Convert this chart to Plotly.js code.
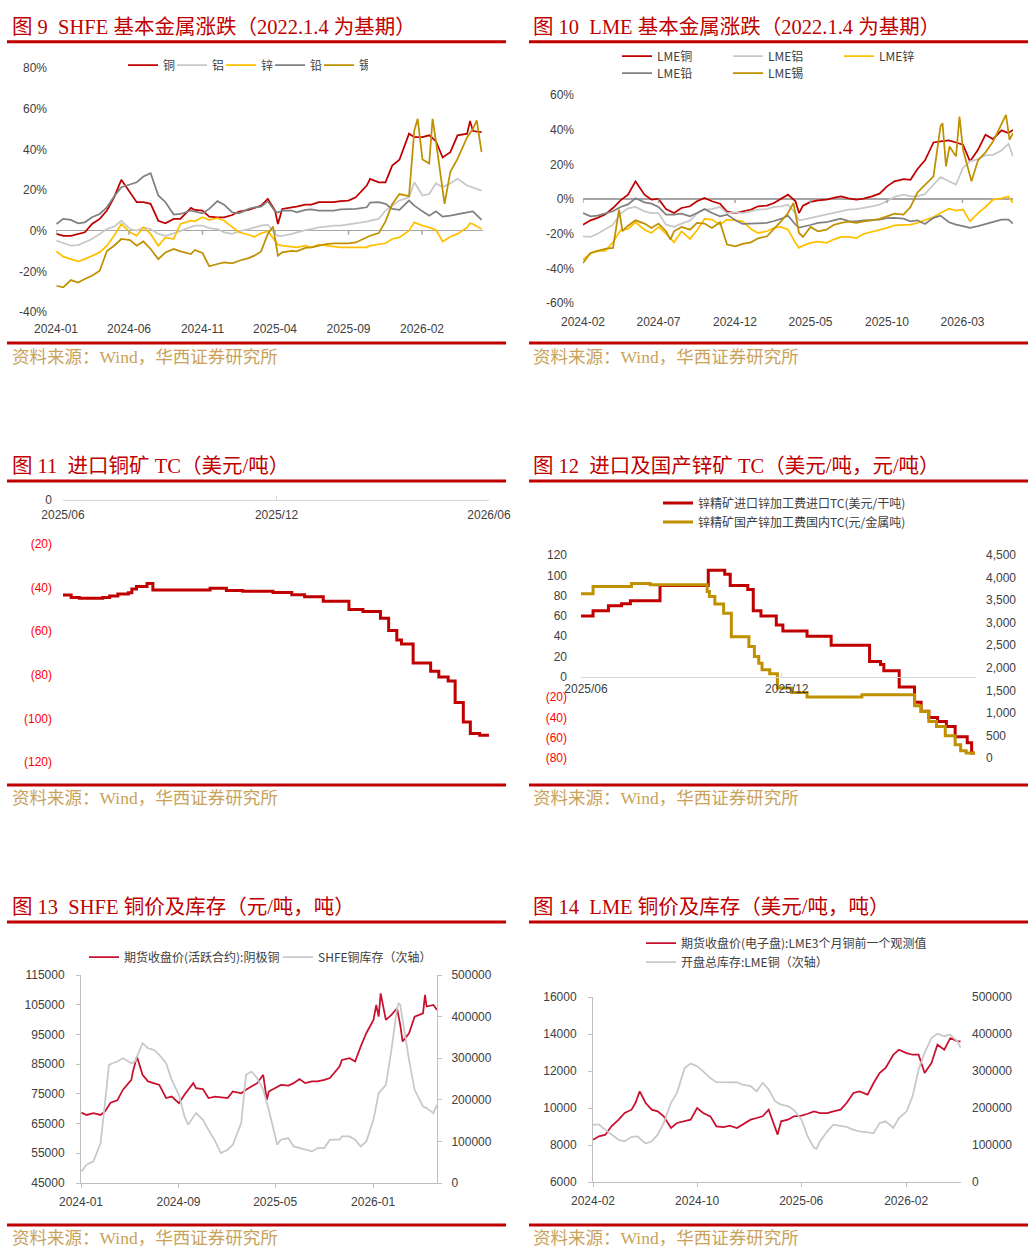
<!DOCTYPE html>
<html>
<head>
<meta charset="utf-8">
<script src="https://cdn.plot.ly/plotly-3.0.1.min.js"></script>
<style>
  html, body { margin: 0; padding: 0; background: #fff; }
  #chart { width: 1034px; height: 1260px; }
</style>
</head>
<body>
<div id="chart"></div>
<script>
'use strict';

// ---------- 图9 SHFE 基本金属涨跌 (%) ----------
const dates9 = ['2024-01-02','2024-01-16','2024-02-01','2024-02-16','2024-03-01','2024-03-16','2024-04-01','2024-04-16','2024-05-01','2024-05-16',
  '2024-06-03','2024-06-17','2024-07-01','2024-07-16','2024-08-01','2024-08-16','2024-09-02','2024-09-16','2024-10-08','2024-10-16',
  '2024-11-01','2024-11-15','2024-12-02','2024-12-16','2025-01-02','2025-01-16','2025-02-05','2025-02-17','2025-03-03','2025-03-17',
  '2025-04-01','2025-04-07','2025-04-16','2025-05-06','2025-05-16','2025-06-03','2025-06-16','2025-07-01','2025-07-16','2025-08-01',
  '2025-08-15','2025-09-01','2025-09-16','2025-10-09','2025-10-16','2025-11-03','2025-11-17','2025-12-01','2025-12-16','2026-01-05',
  '2026-01-16','2026-02-02','2026-02-16','2026-03-02','2026-03-16','2026-04-01','2026-04-16','2026-05-06','2026-05-12','2026-05-18','2026-06-05'];
const copper9 = [-1.6,-2.5,-2.5,-1.6,-0.8,3.3,5.8,9.9,16.4,25.0,
  18.9,14.0,14.0,13.2,4.9,3.6,5.8,5.8,11.2,10.2,
  9.9,6.9,6.6,6.6,7.7,9.4,10.2,11.0,12.3,15.6,
  9.9,3.3,10.7,11.5,11.8,12.8,12.8,14.0,14.0,14.0,
  14.5,14.8,16.4,22.2,25.5,23.8,23.8,32.0,34.9,47.7,
  46.0,46.0,46.9,44.0,36.0,38.6,46.9,47.7,54.0,49.0,48.5];
const alu9 = [-4.9,-6.2,-7.4,-7.1,-5.8,-4.1,-1.6,0.8,2.0,4.9,
  0.8,0.0,1.6,0.8,-1.6,-2.5,-1.3,0.0,2.0,2.5,
  2.5,1.3,0.8,-0.8,-1.6,-0.3,0.8,1.6,2.5,3.0,
  -1.6,-2.5,-2.5,-1.6,-0.8,0.3,0.8,1.6,2.0,2.5,
  2.5,3.0,3.6,4.4,4.9,5.8,9.9,12.3,14.8,16.4,
  23.8,17.3,18.0,23.3,21.4,23.3,25.5,22.2,21.7,21.4,19.7];
const zinc9 = [-10.2,-12.8,-14.0,-15.1,-14.0,-12.3,-10.7,-7.4,-2.5,3.3,
  -0.8,-2.5,1.6,-1.6,-7.4,-3.3,-4.1,3.3,4.9,4.6,
  6.6,5.3,6.2,4.9,1.6,-0.8,-2.0,-3.0,-1.3,-0.3,
  -4.9,-6.9,-7.4,-7.9,-8.2,-7.4,-8.2,-6.9,-7.4,-7.9,
  -8.2,-8.2,-8.2,-8.2,-7.4,-6.6,-6.2,-4.1,-3.3,0.0,
  4.1,2.5,1.6,0.3,-5.3,-3.0,-1.6,1.6,3.6,3.3,0.8];
const lead9 = [3.3,5.8,5.3,3.6,4.1,6.6,8.2,11.5,16.8,21.4,
  22.7,23.8,26.6,28.3,17.3,14.0,7.9,8.2,9.9,9.5,
  8.5,10.7,14.5,12.8,9.0,8.5,10.7,11.5,11.8,14.5,
  9.5,8.9,9.9,9.9,9.0,10.2,10.5,9.9,9.9,9.9,
  10.5,10.7,10.7,11.5,13.8,14.0,13.2,10.7,10.2,14.8,
  12.3,9.5,7.4,9.5,6.9,7.4,8.2,9.0,9.2,9.5,5.3];
const tinDates9 = ['2024-01-02','2024-01-16','2024-02-01','2024-02-16','2024-03-01','2024-03-16','2024-04-01','2024-04-16','2024-05-01','2024-05-16',
  '2024-06-03','2024-06-17','2024-07-01','2024-07-16','2024-08-01','2024-08-16','2024-09-02','2024-09-16','2024-10-08','2024-10-16',
  '2024-11-01','2024-11-15','2024-12-02','2024-12-16','2025-01-02','2025-01-16','2025-02-05','2025-02-17','2025-03-03','2025-03-17',
  '2025-03-28','2025-04-07','2025-04-16','2025-05-06','2025-05-16','2025-06-03','2025-06-16','2025-07-01','2025-07-16','2025-08-01',
  '2025-08-15','2025-09-01','2025-09-16','2025-10-09','2025-10-16','2025-11-03','2025-11-17','2025-12-01','2025-12-16','2026-01-05',
  '2026-01-16','2026-01-23','2026-02-02','2026-02-16','2026-02-23','2026-03-02','2026-03-16','2026-03-20','2026-04-01','2026-04-16',
  '2026-05-06','2026-05-18','2026-05-26','2026-06-05'];
const tin9 = [-27.1,-27.9,-24.3,-25.5,-23.8,-22.2,-19.7,-10.0,-7.4,-4.1,
  -4.6,-7.4,-5.3,-9.0,-14.0,-10.7,-9.0,-10.2,-11.5,-9.5,
  -11.0,-17.5,-16.4,-15.6,-16.1,-14.8,-13.5,-12.3,-10.2,-1.6,
  2.0,-12.3,-10.7,-9.9,-10.2,-8.5,-8.2,-7.4,-6.6,-6.2,
  -6.2,-6.2,-5.8,-3.0,-2.5,-1.2,4.6,13.0,18.0,17.0,
  49.3,55.0,35.0,33.0,55.0,44.0,20.0,13.2,29.0,35.3,
  46.0,50.0,54.3,38.6];

// ---------- 图10 LME 基本金属涨跌 (%) ----------
const dates10 = ['2024-02-01','2024-02-16','2024-03-01','2024-03-16','2024-04-01','2024-04-16','2024-05-01','2024-05-16','2024-06-03','2024-06-17',
  '2024-07-01','2024-07-16','2024-08-01','2024-08-16','2024-09-02','2024-09-16','2024-10-01','2024-10-16','2024-11-01','2024-11-15',
  '2024-12-02','2024-12-16','2025-01-02','2025-01-16','2025-02-03','2025-02-17','2025-03-03','2025-03-17','2025-04-01','2025-04-08',
  '2025-04-16','2025-05-01','2025-05-16','2025-06-02','2025-06-16','2025-07-01','2025-07-16','2025-08-01','2025-08-15','2025-09-01',
  '2025-09-16','2025-10-01','2025-10-16','2025-11-03','2025-11-17','2025-12-01','2025-12-16','2026-01-02','2026-01-16','2026-02-02',
  '2026-02-16','2026-03-02','2026-03-16','2026-04-01','2026-04-16','2026-05-01','2026-05-18','2026-06-01','2026-06-10'];
const copper10 = [-14.8,-12.3,-10.9,-9.0,-5.2,-0.8,2.5,10.2,2.5,-0.4,
  0.0,-5.8,-8.1,-5.2,-4.2,-1.3,0.6,-1.3,-2.7,-7.3,
  -8.1,-7.3,-6.1,-4.2,-3.8,-2.3,0.0,2.5,-1.3,-8.1,
  -3.8,-1.7,-0.8,-0.4,0.6,1.5,0.4,-0.4,0.2,1.5,
  3.1,7.3,10.2,11.5,11.1,17.3,22.3,32.6,33.2,33.8,
  32.6,31.3,21.7,28.4,37.1,34.6,39.6,38.0,39.9];
const alu10 = [-21.5,-21.9,-20.0,-17.7,-14.8,-8.4,-5.4,-4.6,-7.1,-8.1,
  -8.1,-14.8,-16.1,-14.2,-12.5,-8.4,-6.1,-5.8,-4.6,-8.1,
  -7.7,-8.1,-7.1,-6.1,-5.8,-4.6,-4.2,-3.3,-8.1,-12.3,
  -11.9,-10.9,-10.0,-9.0,-8.1,-7.1,-6.1,-5.8,-5.2,-4.2,
  -3.3,-1.3,1.2,2.5,1.5,1.5,2.9,8.3,12.7,10.2,
  8.3,17.9,21.7,23.0,25.2,25.5,28.0,31.9,24.6];
const zinc10 = [-34.9,-31.5,-29.6,-30.1,-25.0,-18.0,-17.3,-13.4,-17.7,-19.6,
  -16.1,-20.0,-25.0,-18.6,-23.0,-18.0,-11.5,-11.9,-14.8,-11.9,
  -12.3,-12.9,-17.3,-19.6,-18.6,-16.7,-16.1,-17.7,-25.3,-28.2,
  -26.9,-25.3,-24.6,-25.3,-23.4,-21.9,-21.9,-22.5,-20.2,-19.0,
  -17.7,-16.7,-15.2,-14.8,-14.8,-13.8,-12.3,-10.4,-8.1,-5.6,
  -6.7,-6.1,-12.9,-8.1,-4.6,-0.4,0.4,1.5,-2.3];
const lead10 = [-8.1,-10.0,-9.6,-8.6,-7.1,-4.6,-3.1,0.4,-1.9,-2.7,
  -4.6,-9.0,-9.0,-8.4,-10.0,-8.1,-5.8,-8.1,-10.0,-9.0,
  -12.3,-14.4,-14.2,-14.4,-13.8,-12.7,-11.5,-9.6,-14.8,-16.5,
  -16.1,-15.0,-13.8,-13.4,-12.3,-11.3,-12.7,-12.9,-12.3,-11.9,
  -11.9,-11.1,-10.9,-11.3,-12.9,-12.3,-14.4,-10.9,-9.6,-13.4,
  -14.8,-15.7,-16.7,-15.7,-14.6,-13.2,-11.9,-11.9,-14.2];
const tinDates10 = ['2024-02-01','2024-02-16','2024-03-01','2024-03-16','2024-04-01','2024-04-13','2024-04-20','2024-05-01','2024-05-16','2024-06-03',
  '2024-06-17','2024-07-01','2024-07-16','2024-07-25','2024-08-01','2024-08-16','2024-09-02','2024-09-16','2024-10-01','2024-10-16',
  '2024-11-01','2024-11-15','2024-12-02','2024-12-16','2025-01-02','2025-01-16','2025-02-03','2025-02-17','2025-03-03','2025-03-17',
  '2025-03-28','2025-04-08','2025-04-16','2025-05-01','2025-05-16','2025-06-02','2025-06-16','2025-07-01','2025-07-16','2025-08-01',
  '2025-08-15','2025-09-01','2025-09-16','2025-10-01','2025-10-16','2025-11-03','2025-11-17','2025-12-01','2025-12-16','2026-01-02',
  '2026-01-16','2026-01-20','2026-01-27','2026-02-03','2026-02-16','2026-02-23','2026-03-02','2026-03-16','2026-03-19','2026-04-01',
  '2026-04-16','2026-05-01','2026-05-15','2026-05-27','2026-06-03','2026-06-10'];
const tin10 = [-36.9,-31.1,-30.1,-28.8,-28.2,-6.1,-18.6,-15.4,-12.3,-14.2,
  -16.7,-14.2,-18.6,-23.4,-18.6,-16.1,-17.7,-13.8,-14.2,-16.7,
  -13.4,-26.3,-27.3,-25.9,-25.0,-22.7,-21.5,-17.3,-12.9,-8.1,
  -2.3,-19.6,-21.9,-16.1,-18.6,-17.7,-15.0,-13.8,-13.1,-13.8,
  -12.9,-12.3,-11.5,-10.0,-8.4,-9.0,-4.6,3.8,8.1,13.1,
  41.9,43.8,18.8,30.3,24.6,47.6,28.4,14.0,10.2,22.3,
  26.9,33.2,41.9,48.6,34.2,38.0];

// ---------- 图11 进口铜矿 TC (美元/吨) ----------
const tcDates11 = ['2025-06-01','2025-06-08','2025-06-15','2025-07-05','2025-07-11','2025-07-18','2025-07-27','2025-07-30','2025-08-03','2025-08-12',
  '2025-08-17','2025-10-05','2025-10-19','2025-11-02','2025-11-28','2025-12-14','2025-12-25','2026-01-10','2026-02-01','2026-02-13',
  '2026-02-28','2026-03-07','2026-03-14','2026-03-18','2026-03-28','2026-04-12','2026-04-19','2026-04-27','2026-05-03','2026-05-10',
  '2026-05-16','2026-05-24','2026-06-01'];
const tc11 = [-43.5,-44.6,-45.0,-44.6,-44.0,-43.0,-42.5,-40.8,-39.6,-38.2,
  -41.2,-40.4,-41.5,-41.8,-42.4,-43.4,-44.3,-46.4,-50.2,-51.1,
  -54.2,-59.8,-64.1,-65.9,-74.7,-78.4,-81.1,-82.9,-92.8,-101.7,
  -107.0,-107.8,-107.8];

// ---------- 图12 进口及国产锌矿 TC ----------
const znImpDates = ['2025-06-01','2025-06-12','2025-06-26','2025-07-08','2025-07-16','2025-08-12','2025-09-25','2025-10-10','2025-10-15','2025-10-31',
  '2025-11-05','2025-11-12','2025-11-26','2025-12-02','2025-12-24','2026-01-15','2026-02-19','2026-03-01','2026-03-04','2026-03-18',
  '2026-04-01','2026-04-07','2026-04-14','2026-04-22','2026-04-30','2026-05-08','2026-05-19','2026-05-23','2026-05-26'];
const znImp = [60,65,70,72,75,90,105,101,90,86,
  65,60,51,45,40,31,15,12,6,-10,
  -25,-34,-40,-44,-49,-59,-65,-75,-75];
const znDomDates = ['2025-06-01','2025-06-12','2025-07-17','2025-08-03','2025-09-24','2025-09-26','2025-10-01','2025-10-09','2025-10-16','2025-11-01',
  '2025-11-06','2025-11-10','2025-11-13','2025-11-20','2025-11-27','2025-12-10','2025-12-24','2026-02-12','2026-04-01','2026-04-07',
  '2026-04-14','2026-04-21','2026-04-29','2026-05-08','2026-05-13','2026-05-18','2026-05-26'];
const znDom = [3640,3800,3870,3840,3690,3580,3415,3210,2690,2470,
  2250,2100,1955,1865,1550,1450,1350,1400,1160,1030,
  810,700,495,295,160,110,110];

// ---------- 图13 SHFE 铜价及库存 ----------
const priceDates13 = ['2024-01-02','2024-01-15','2024-02-01','2024-02-19','2024-03-01','2024-03-15','2024-04-01','2024-04-15','2024-05-06','2024-05-10',
  '2024-05-20','2024-06-03','2024-06-17','2024-07-01','2024-07-15','2024-08-01','2024-08-15','2024-09-02','2024-09-16','2024-10-08',
  '2024-10-15','2024-11-01','2024-11-15','2024-12-02','2024-12-16','2025-01-02','2025-01-15','2025-02-05','2025-02-17','2025-03-03',
  '2025-03-17','2025-04-01','2025-04-10','2025-04-15','2025-05-06','2025-05-15','2025-06-03','2025-06-16','2025-07-01','2025-07-15',
  '2025-08-01','2025-08-15','2025-09-01','2025-09-15','2025-10-09','2025-10-15','2025-11-03','2025-11-17','2025-12-01','2025-12-15',
  '2026-01-02','2026-01-09','2026-01-15','2026-01-20','2026-02-02','2026-02-16','2026-03-02','2026-03-10','2026-03-16','2026-04-01',
  '2026-04-15','2026-05-06','2026-05-11','2026-05-15','2026-06-01','2026-06-10'];
const price13 = [68700,67900,68500,67900,69100,72000,72800,76400,79700,82500,
  87600,81400,79200,78600,78000,73600,74100,71900,74700,78600,
  76900,76600,73600,74100,73900,73600,75800,75200,76400,77500,
  78600,81400,73000,75800,77500,78000,77800,78600,80000,78600,
  79200,79200,79700,80300,84200,86400,87000,85900,90900,95400,
  99900,104900,101000,108800,99900,101600,103800,98200,92600,95400,
  101000,102100,108300,104400,104900,103200];
const stockDates13 = ['2024-01-02','2024-01-15','2024-02-01','2024-02-19','2024-03-01','2024-03-11','2024-03-20','2024-04-01','2024-04-15','2024-05-06',
  '2024-05-15','2024-06-03','2024-06-17','2024-07-01','2024-07-15','2024-08-01','2024-08-15','2024-09-02','2024-09-16','2024-09-25',
  '2024-10-15','2024-11-01','2024-11-15','2024-12-02','2024-12-16','2025-01-02','2025-01-15','2025-02-05','2025-02-17','2025-03-03',
  '2025-03-17','2025-04-01','2025-04-15','2025-05-06','2025-05-15','2025-06-03','2025-06-16','2025-07-01','2025-07-15','2025-08-01',
  '2025-08-15','2025-09-01','2025-09-15','2025-10-09','2025-10-15','2025-11-03','2025-11-17','2025-12-01','2025-12-15','2026-01-02',
  '2026-01-15','2026-02-02','2026-02-16','2026-03-02','2026-03-06','2026-03-10','2026-03-16','2026-04-01','2026-04-15','2026-05-06',
  '2026-05-15','2026-06-01','2026-06-10'];
const stock13 = [28000,44000,52000,96000,192000,284000,288000,292000,300000,288000,
  292000,336000,324000,320000,308000,288000,248000,212000,160000,140000,
  168000,152000,128000,100000,72000,80000,92000,144000,260000,268000,
  252000,224000,176000,92000,104000,108000,88000,84000,80000,76000,
  84000,84000,104000,104000,112000,112000,104000,88000,100000,152000,
  216000,236000,320000,420000,432000,428000,392000,296000,224000,184000,
  180000,168000,188000];

// ---------- 图14 LME 铜价及库存 ----------
const priceDates14 = ['2024-02-01','2024-02-15','2024-03-01','2024-03-15','2024-04-01','2024-04-15','2024-05-01','2024-05-10','2024-05-20','2024-06-03',
  '2024-06-17','2024-07-01','2024-07-15','2024-08-01','2024-08-15','2024-09-02','2024-09-16','2024-10-01','2024-10-15','2024-11-01',
  '2024-11-15','2024-12-02','2024-12-16','2025-01-02','2025-01-15','2025-02-03','2025-02-17','2025-03-03','2025-03-17','2025-04-01',
  '2025-04-07','2025-04-15','2025-05-01','2025-05-15','2025-06-02','2025-06-16','2025-07-01','2025-07-15','2025-08-01','2025-08-15',
  '2025-09-01','2025-09-15','2025-10-01','2025-10-15','2025-11-03','2025-11-17','2025-12-01','2025-12-15','2026-01-02','2026-01-15',
  '2026-02-02','2026-02-16','2026-03-02','2026-03-16','2026-04-01','2026-04-15','2026-05-01','2026-05-15','2026-06-01','2026-06-08'];
const price14 = [8290,8470,8560,9010,9370,9730,9910,10270,10900,10270,
  9910,9820,9550,8920,9190,9280,9370,10000,9730,9550,
  9010,8970,9040,8920,9100,9370,9460,9550,9910,9010,
  8560,9280,9370,9550,9590,9690,9820,9730,9730,9820,
  9910,10270,10810,10900,10720,11350,11890,12160,12880,13150,
  12970,12880,12880,11890,12430,13420,13150,13780,13600,13600];
const stockDates14 = ['2024-02-01','2024-02-15','2024-03-01','2024-03-15','2024-04-01','2024-04-15','2024-05-01','2024-05-15','2024-06-03','2024-06-17',
  '2024-07-01','2024-07-15','2024-08-01','2024-08-15','2024-09-02','2024-09-16','2024-10-01','2024-10-15','2024-11-01','2024-11-15',
  '2024-12-02','2024-12-16','2025-01-02','2025-01-15','2025-02-03','2025-02-17','2025-03-03','2025-03-17','2025-04-01','2025-04-15',
  '2025-05-01','2025-05-15','2025-06-02','2025-06-16','2025-07-01','2025-07-07','2025-07-15','2025-08-01','2025-08-15','2025-09-01',
  '2025-09-15','2025-10-01','2025-10-15','2025-11-03','2025-11-17','2025-12-01','2025-12-15','2026-01-02','2026-01-15','2026-02-02',
  '2026-02-16','2026-03-02','2026-03-16','2026-04-01','2026-04-15','2026-05-01','2026-05-15','2026-06-01','2026-06-08'];
const stock14 = [155000,155000,141000,128000,114000,110000,122000,123000,104000,110000,
  128000,159000,214000,241000,308000,320000,313000,299000,281000,270000,
  269000,269000,270000,263000,259000,245000,268000,250000,218000,209000,
  205000,195000,168000,123000,92000,90000,110000,137000,155000,152000,
  149000,141000,137000,134000,132000,159000,164000,146000,173000,191000,
  232000,304000,349000,389000,401000,394000,398000,380000,362000];

// ---------- 文字 ----------
const titles = ['图 9\u00a0\u00a0SHFE 基本金属涨跌（2022.1.4 为基期）', '图 10\u00a0\u00a0LME 基本金属涨跌（2022.1.4 为基期）',
  '图 11\u00a0\u00a0进口铜矿 TC（美元/吨）', '图 12\u00a0\u00a0进口及国产锌矿 TC（美元/吨，元/吨）',
  '图 13\u00a0\u00a0SHFE 铜价及库存（元/吨，吨）', '图 14\u00a0\u00a0LME 铜价及库存（美元/吨，吨）'];
const sourceText = '资料来源：Wind，华西证券研究所';
const names9 = ['铜', '铝', '锌', '铅', '锡'];
const names10 = ['LME铜', 'LME铝', 'LME锌', 'LME铅', 'LME锡'];
const names12 = ['锌精矿进口锌加工费进口TC(美元/干吨)', '锌精矿国产锌加工费国内TC(元/金属吨)'];
const names13 = ['期货收盘价(活跃合约):阴极铜', 'SHFE铜库存（次轴）'];
const names14 = ['期货收盘价(电子盘):LME3个月铜前一个观测值', '开盘总库存:LME铜（次轴）'];

const pctVals9 = [-40, -20, 0, 20, 40, 60, 80];
const pctText9 = ['-40%', '-20%', '0%', '20%', '40%', '60%', '80%'];
const pctVals10 = [-60, -40, -20, 0, 20, 40, 60];
const pctText10 = ['-60%', '-40%', '-20%', '0%', '20%', '40%', '60%'];
const x9Ticks = ['2024-01-01', '2024-06-01', '2024-11-01', '2025-04-01', '2025-09-01', '2026-02-01'];
const x9Text = ['2024-01', '2024-06', '2024-11', '2025-04', '2025-09', '2026-02'];
const x10Ticks = ['2024-02-01', '2024-07-01', '2024-12-01', '2025-05-01', '2025-10-01', '2026-03-01'];
const x10Text = ['2024-02', '2024-07', '2024-12', '2025-05', '2025-10', '2026-03'];
const x11Ticks = ['2025-06-01', '2025-12-01', '2026-06-01'];
const x11Text = ['2025/06', '2025/12', '2026/06'];
const y11Vals = [0, -20, -40, -60, -80, -100, -120];
const y11Text = ['0', '(20)', '(40)', '(60)', '(80)', '(100)', '(120)'];
const x12Ticks = ['2025-06-01', '2025-12-01'];
const x12Text = ['2025/06', '2025/12'];
const y12Vals = [-80, -60, -40, -20, 0, 20, 40, 60, 80, 100, 120];
const y12Text = ['(80)', '(60)', '(40)', '(20)', '0', '20', '40', '60', '80', '100', '120'];
const y12rVals = [0, 500, 1000, 1500, 2000, 2500, 3000, 3500, 4000, 4500];
const y12rText = ['0', '500', '1,000', '1,500', '2,000', '2,500', '3,000', '3,500', '4,000', '4,500'];
const x13Ticks = ['2024-01-01', '2024-09-01', '2025-05-01', '2026-01-01'];
const x13Text = ['2024-01', '2024-09', '2025-05', '2026-01'];
const y13Vals = [45000, 55000, 65000, 75000, 85000, 95000, 105000, 115000];
const y13Text = ['45000', '55000', '65000', '75000', '85000', '95000', '105000', '115000'];
const stockVals = [0, 100000, 200000, 300000, 400000, 500000];
const stockText = ['0', '100000', '200000', '300000', '400000', '500000'];
const x14Ticks = ['2024-02-01', '2024-10-01', '2025-06-01', '2026-02-01'];
const x14Text = ['2024-02', '2024-10', '2025-06', '2026-02'];
const y14Vals = [6000, 8000, 10000, 12000, 14000, 16000];
const y14Text = ['6000', '8000', '10000', '12000', '14000', '16000'];

// ---------- 样式 ----------
const W = 1034, H = 1260;
function fx(p) { return p / W; }
function fy(p) { return 1 - p / H; }

const sans = 'Liberation Sans, Noto Sans CJK SC, sans-serif';
const cjk = 'Noto Sans CJK SC, Liberation Sans, sans-serif';
const serif = 'Liberation Serif, Noto Sans CJK SC, serif';
const red = '#C00000', crimson = '#C8102E', gold = '#BF9000', zincCol = '#FFC000';
const lightGray = '#C8C8C8', darkGray = '#808080', zeroGray = '#A6A6A6';
const tickFont = {family: sans, size: 12, color: '#404040'};
const legendFont = {family: cjk, size: 12, color: '#404040'};

function redNeg(text) {
  return text.map(function (t) { return t.charAt(0) === '(' ? '<span style="color:#FF0000">' + t + '</span>' : t; });
}

function ax(extra) {
  return Object.assign({
    showgrid: false, zeroline: false, showline: false, ticks: '',
    tickfont: tickFont, fixedrange: true, tickmode: 'array'
  }, extra);
}

function line(x, y, name, color, width, xa, ya, legend, extra) {
  return Object.assign({
    type: 'scatter', mode: 'lines', x: x, y: y, name: name,
    line: {color: color, width: width}, xaxis: xa, yaxis: ya,
    legend: legend, hoverinfo: 'skip'
  }, extra || {});
}

const data = [
  line(dates9, copper9, names9[0], red, 1.75, 'x', 'y', 'legend'),
  line(dates9, alu9, names9[1], lightGray, 1.75, 'x', 'y', 'legend'),
  line(dates9, zinc9, names9[2], zincCol, 1.75, 'x', 'y', 'legend'),
  line(dates9, lead9, names9[3], darkGray, 1.75, 'x', 'y', 'legend'),
  line(tinDates9, tin9, names9[4], gold, 1.75, 'x', 'y', 'legend'),

  line(dates10, copper10, names10[0], red, 1.75, 'x2', 'y2', 'legend2'),
  line(dates10, alu10, names10[1], lightGray, 1.75, 'x2', 'y2', 'legend2'),
  line(dates10, zinc10, names10[2], zincCol, 1.75, 'x2', 'y2', 'legend2'),
  line(dates10, lead10, names10[3], darkGray, 1.75, 'x2', 'y2', 'legend3'),
  line(tinDates10, tin10, names10[4], gold, 1.75, 'x2', 'y2', 'legend3'),

  line(tcDates11, tc11, '进口铜矿TC', red, 3, 'x3', 'y3', 'legend', {showlegend: false, line: {color: red, width: 3, shape: 'hv'}}),

  line(znImpDates, znImp, names12[0], red, 3, 'x4', 'y4', 'legend4', {legendgroup: 'a', line: {color: red, width: 3, shape: 'hv'}}),
  line(znDomDates, znDom, names12[1], gold, 3, 'x4', 'y5', 'legend4', {legendgroup: 'b', line: {color: gold, width: 3, shape: 'hv'}}),

  line(priceDates13, price13, names13[0], crimson, 1.75, 'x5', 'y6', 'legend5'),
  line(stockDates13, stock13, names13[1], lightGray, 1.75, 'x5', 'y7', 'legend5'),

  line(priceDates14, price14, names14[0], crimson, 1.75, 'x6', 'y8', 'legend6', {legendgroup: 'a'}),
  line(stockDates14, stock14, names14[1], lightGray, 1.75, 'x6', 'y9', 'legend6', {legendgroup: 'b'})
];

function legendAt(lineStartPx, centerPx, orient, extra) {
  return Object.assign({
    orientation: orient, x: fx(lineStartPx - 5), y: fy(centerPx - 14.5),
    xanchor: 'left', yanchor: 'top', bgcolor: 'rgba(0,0,0,0)', borderwidth: 0,
    font: legendFont, traceorder: 'normal', itemclick: false, itemdoubleclick: false
  }, extra || {});
}

// panel frames
const rowTop = [41.7, 481, 922], rowBottom = [343, 785, 1225];
const rowTitleY = [27, 466, 907], rowSourceY = [357, 798, 1238];
const colX = [[7, 506], [529, 1028]], colTextX = [10, 531];

const shapes = [], annotations = [];
for (let r = 0; r < 3; r++) {
  for (let c = 0; c < 2; c++) {
    [rowTop[r], rowBottom[r]].forEach(function (yy) {
      shapes.push({type: 'line', xref: 'paper', yref: 'paper', x0: fx(colX[c][0]), x1: fx(colX[c][1]),
        y0: fy(yy), y1: fy(yy), line: {color: red, width: 3}});
    });
    annotations.push({xref: 'paper', yref: 'paper', x: fx(colTextX[c]), y: fy(rowTitleY[r]),
      xanchor: 'left', yanchor: 'middle', showarrow: false, text: titles[r * 2 + c],
      font: {family: serif, size: 20.5, color: red}});
    annotations.push({xref: 'paper', yref: 'paper', x: fx(colTextX[c]), y: fy(rowSourceY[r]),
      xanchor: 'left', yanchor: 'middle', showarrow: false, text: sourceText,
      font: {family: serif, size: 17.5, color: '#C9A25A'}});
  }
}

// short ticks hanging under the 0% line of charts 9 and 10
x9Ticks.forEach(function (t) {
  shapes.push({type: 'line', xref: 'x', yref: 'y', x0: t, x1: t, y0: 0, y1: -2, line: {color: zeroGray, width: 1.5}});
});
x10Ticks.forEach(function (t) {
  shapes.push({type: 'line', xref: 'x2', yref: 'y2', x0: t, x1: t, y0: 0, y1: -2.3, line: {color: zeroGray, width: 1.5}});
});

const layout = {
  width: W, height: H,
  margin: {l: 0, r: 0, t: 0, b: 0},
  paper_bgcolor: '#FFFFFF', plot_bgcolor: 'rgba(0,0,0,0)',
  font: {family: sans, size: 12, color: '#404040'},
  showlegend: true,
  hovermode: false,

  // 图9
  xaxis: ax({domain: [fx(56), fx(483)], anchor: 'y', type: 'date', range: ['2024-01-01', '2026-06-08'],
    tickvals: x9Ticks, ticktext: x9Text, ticklabelstandoff: 8}),
  yaxis: ax({domain: [fy(312), fy(68)], anchor: 'x', range: [-40, 80], tickvals: pctVals9, ticktext: pctText9,
    zeroline: true, zerolinecolor: zeroGray, zerolinewidth: 1.5, ticklabelstandoff: 8}),

  // 图10
  xaxis2: ax({domain: [fx(583), fx(1013)], anchor: 'y2', type: 'date', range: ['2024-02-01', '2026-06-10'],
    tickvals: x10Ticks, ticktext: x10Text, ticklabelstandoff: 10}),
  yaxis2: ax({domain: [fy(303), fy(95)], anchor: 'x2', range: [-60, 60], tickvals: pctVals10, ticktext: pctText10,
    zeroline: true, zerolinecolor: zeroGray, zerolinewidth: 1.5, ticklabelstandoff: 8}),

  // 图11
  xaxis3: ax({domain: [fx(63), fx(489)], anchor: 'free', position: fy(500), type: 'date',
    range: ['2025-06-01', '2026-06-01'], tickvals: x11Ticks, ticktext: x11Text,
    showline: true, linecolor: '#D9D9D9', linewidth: 1, ticks: 'inside', ticklen: 4, tickcolor: '#D9D9D9',
    ticklabelstandoff: 4}),
  yaxis3: ax({domain: [fy(762), fy(500)], anchor: 'x3', range: [-120, 0], tickvals: y11Vals,
    ticktext: redNeg(y11Text), ticklabelstandoff: 10}),

  // 图12
  xaxis4: ax({domain: [fx(581), fx(976)], anchor: 'free', position: fy(677), type: 'date',
    range: ['2025-06-01', '2026-05-27'], tickvals: x12Ticks, ticktext: x12Text,
    showline: true, linecolor: '#D9D9D9', linewidth: 1, ticks: 'inside', ticklen: 4, tickcolor: '#D9D9D9',
    ticklabelstandoff: 1, ticklabelshift: 5}),
  yaxis4: ax({domain: [fy(758), fy(555)], anchor: 'x4', range: [-80, 120], tickvals: y12Vals,
    ticktext: redNeg(y12Text), ticklabelstandoff: 13}),
  yaxis5: ax({overlaying: 'y4', anchor: 'x4', side: 'right', range: [0, 4500], tickvals: y12rVals,
    ticktext: y12rText, ticklabelstandoff: 9}),

  // 图13
  xaxis5: ax({domain: [fx(81), fx(437)], anchor: 'y6', type: 'date', range: ['2024-01-01', '2026-06-10'],
    tickvals: x13Ticks, ticktext: x13Text, showline: true, linecolor: '#BFBFBF',
    ticks: 'outside', ticklen: 4, tickcolor: '#BFBFBF', ticklabelstandoff: 4}),
  yaxis6: ax({domain: [fy(1183), fy(975)], anchor: 'x5', range: [45000, 115000], tickvals: y13Vals,
    ticktext: y13Text, showline: true, linecolor: '#BFBFBF', ticks: 'outside', ticklen: 4,
    tickcolor: '#BFBFBF', ticklabelstandoff: 9}),
  yaxis7: ax({overlaying: 'y6', anchor: 'x5', side: 'right', range: [0, 500000], tickvals: stockVals,
    ticktext: stockText, showline: true, linecolor: '#BFBFBF', ticks: 'outside', ticklen: 4,
    tickcolor: '#BFBFBF', ticklabelstandoff: 7}),

  // 图14
  xaxis6: ax({domain: [fx(593), fx(961)], anchor: 'y8', type: 'date', range: ['2024-02-01', '2026-06-09'],
    tickvals: x14Ticks, ticktext: x14Text, showline: true, linecolor: '#BFBFBF',
    ticks: 'outside', ticklen: 4, tickcolor: '#BFBFBF', ticklabelstandoff: 4}),
  yaxis8: ax({domain: [fy(1182), fy(997)], anchor: 'x6', range: [6000, 16000], tickvals: y14Vals,
    ticktext: y14Text, showline: true, linecolor: '#BFBFBF', ticks: 'outside', ticklen: 4,
    tickcolor: '#BFBFBF', ticklabelstandoff: 9}),
  yaxis9: ax({overlaying: 'y8', anchor: 'x6', side: 'right', range: [0, 500000], tickvals: stockVals,
    ticktext: stockText, ticklabelstandoff: 10}),

  legend: legendAt(128, 65, 'h', {entrywidth: 4}),
  legend2: legendAt(622, 56, 'h', {entrywidth: 66}),
  legend3: legendAt(622, 73, 'h', {entrywidth: 66}),
  legend4: legendAt(663, 503, 'v', {tracegroupgap: 6}),
  legend5: legendAt(89, 957, 'h', {entrywidth: 149}),
  legend6: legendAt(646, 943, 'v', {tracegroupgap: 3}),

  shapes: shapes,
  annotations: annotations
};

const config = {responsive: false, displayModeBar: false, staticPlot: true};

Plotly.newPlot('chart', data, layout, config);
</script>
</body>
</html>
